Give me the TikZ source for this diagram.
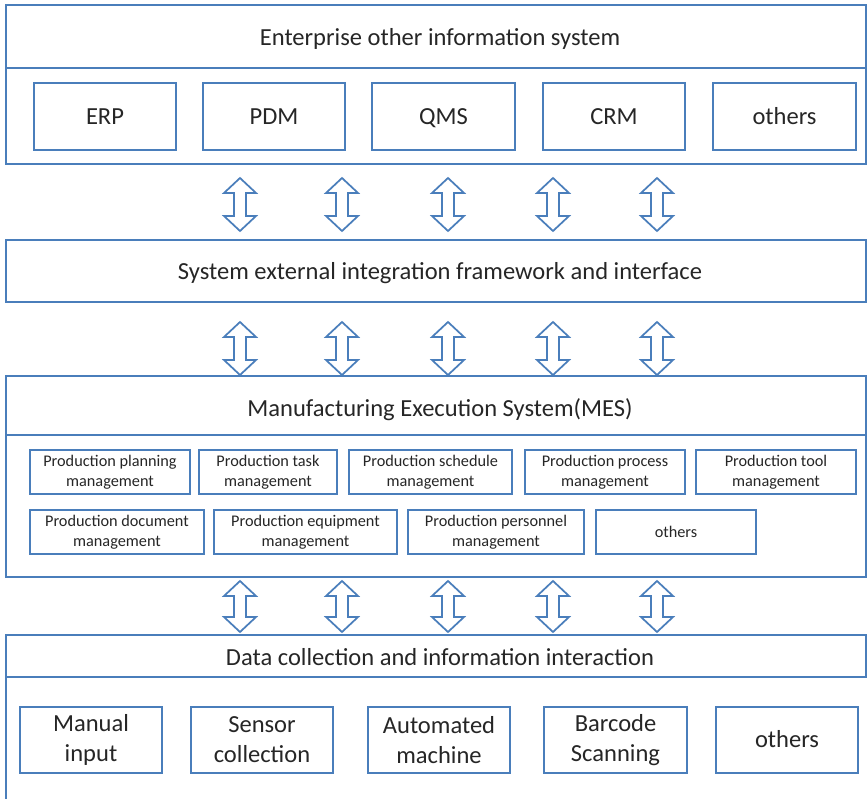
\documentclass[tikz,border=0pt]{standalone}
\usepackage{fontspec}
\setmainfont{Carlito}
\usetikzlibrary{calc}
\definecolor{edge}{HTML}{4A7EBB}
\definecolor{ink}{HTML}{262626}

% framed box given by its corners (x1,y1) (x2,y2), in pixel units
\newcommand{\pbox}[7][]{%
  \node[box,#1,anchor=north west,
        minimum width={(#5-#3)*0.75pt},
        minimum height={(#6-#4)*0.75pt}] (#2) at (#3,#4) {#7};}

% hollow up/down arrow centred on x = #1, running from #4 px below
% node anchor #2 to #5 px above node anchor #3
\newcommand{\updown}[5]{%
  \path (#1,0 |- #2) ++(0,#4) coordinate (t);
  \path (#1,0 |- #3) ++(0,-#5) coordinate (b);
  \draw[updownarrow] (t) -- ++(16,15) -- ++(-10,0) -- ($(b)+(6,-15)$)
     -- ++(10,0) -- (b) -- ++(-16,-15) -- ++(10,0) -- ($(t)+(-6,15)$)
     -- ++(-10,0) -- cycle;}

\begin{document}
\begin{tikzpicture}[x=0.75pt,y=-0.75pt,
  line width=1.3pt,
  box/.style={draw=edge, fill=white, inner sep=0pt, outer sep=0pt,
              align=center, text=ink, font=\fontsize{18.4}{22.5}\selectfont},
  one/.style={text height=14.5pt, text depth=3pt},
  small/.style={font=\fontsize{12.2}{15}\selectfont},
  title/.style={text=ink, font=\fontsize{18.4}{22}\selectfont, inner sep=0pt,
                text height=14.5pt, text depth=3pt},
  updownarrow/.style={draw=edge, fill=white, line width=1.3pt, line join=miter}]
\useasboundingbox (0,0) rectangle (868,799);
\fill[white] (0,0) rectangle (868,799);

% ---- enterprise layer ----
\pbox{ent}{6}{5}{866}{164}{}
\pbox{entHead}{6}{5}{866}{68}{}
\node[title] (entT) at (440,38) {Enterprise other information system};
\pbox[one]{erp}{34}{83}{176}{150}{ERP}
\pbox[one]{pdm}{203}{83}{345}{150}{PDM}
\pbox[one]{qms}{372}{83}{515}{150}{QMS}
\pbox[one]{crm}{543}{83}{685}{150}{CRM}
\pbox[one]{entOth}{713}{83}{856}{150}{others}

% ---- integration layer ----
\pbox{sys}{6}{240}{866}{302}{}
\node[title] (sysT) at (440,272) {System external integration framework and interface};

% ---- MES layer ----
\pbox{mes}{6}{376}{866}{577}{}
\pbox{mesHead}{6}{376}{866}{435}{}
\node[title] (mesT) at (440,409) {Manufacturing Execution System(MES)};
\pbox[small]{m1}{30}{450}{190}{494}{Production planning\\management}
\pbox[small]{m2}{199}{450}{337}{494}{Production task\\management}
\pbox[small]{m3}{349}{450}{512}{494}{Production schedule\\management}
\pbox[small]{m4}{525}{450}{685}{494}{Production process\\management}
\pbox[small]{m5}{696}{450}{856}{494}{Production tool\\management}
\pbox[small]{m6}{30}{510}{204}{554}{Production document\\management}
\pbox[small]{m7}{214}{510}{397}{554}{Production equipment\\management}
\pbox[small]{m8}{408}{510}{584}{554}{Production personnel\\management}
\pbox[small]{m9}{596}{510}{756}{554}{others}

% ---- data collection layer (frame runs past the lower edge) ----
\draw[edge] (6,810) -- (6,635);
\pbox{dat}{6}{635}{866}{677}{}
\node[title] (datT) at (440,658) {Data collection and information interaction};
\pbox{d1}{20}{707}{162}{773}{Manual\\input}
\pbox{d2}{191}{707}{333}{773}{Sensor\\collection}
\pbox{d3}{368}{707}{510}{773}{Automated\\machine}
\pbox{d4}{544}{707}{687}{773}{Barcode\\Scanning}
\pbox[one]{d5}{716}{707}{858}{773}{others}

% ---- arrows between layers ----
\foreach \cx in {240,342,448,553,657} {
  \updown{\cx}{ent.south}{sys.north}{14}{9}
  \updown{\cx}{sys.south}{mes.north}{20}{1}
  \updown{\cx}{mes.south}{dat.north}{4}{3}
}
\end{tikzpicture}
\end{document}
